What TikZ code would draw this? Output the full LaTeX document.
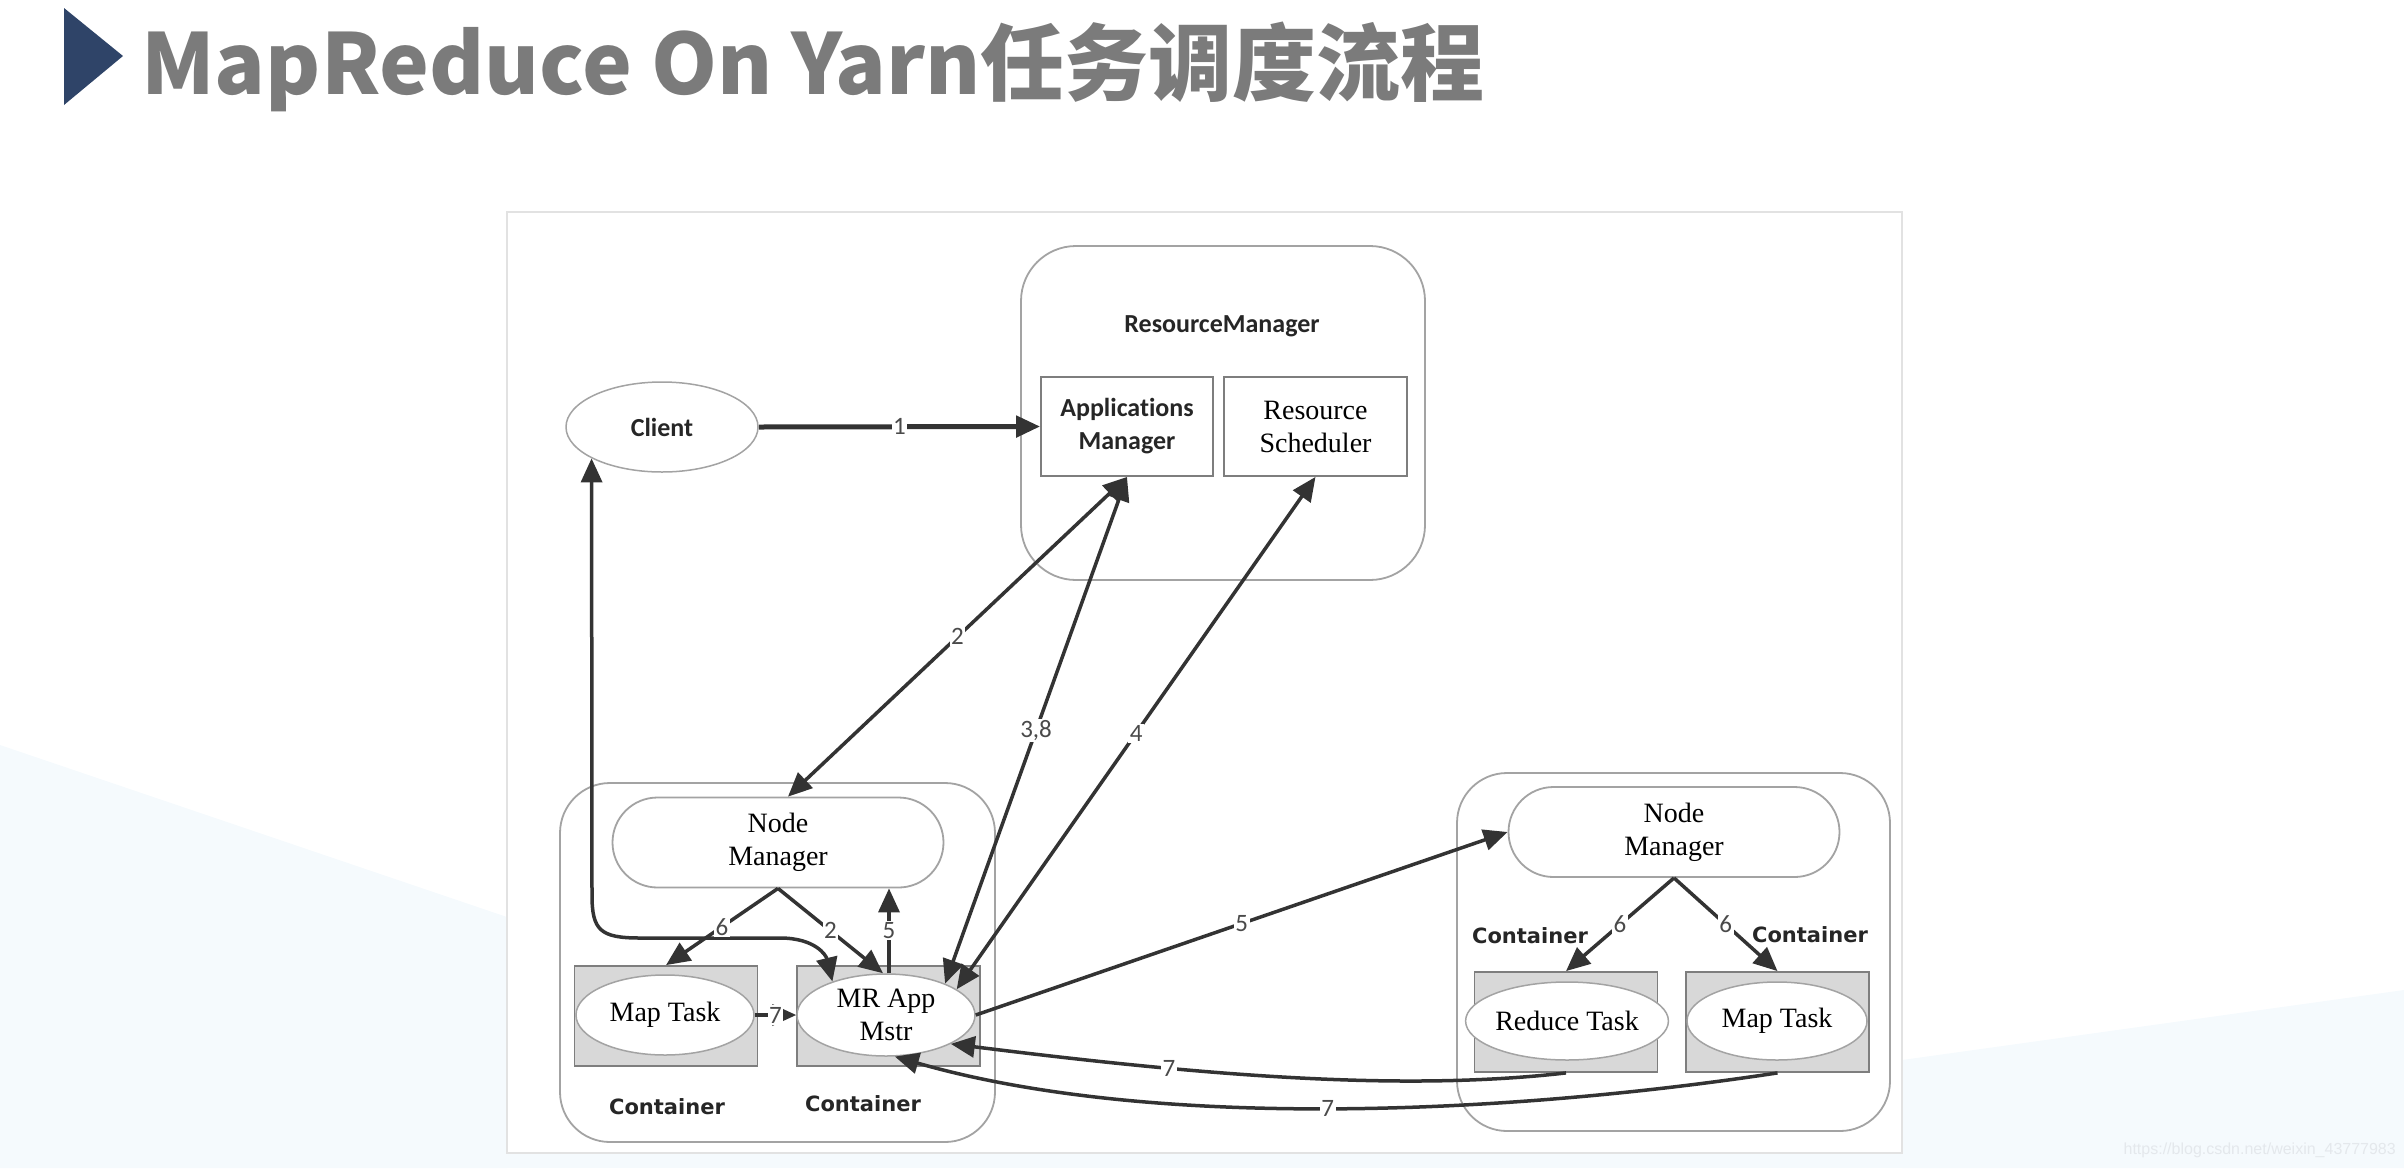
\documentclass[tikz,border=0pt]{standalone}
\usepackage{fontspec}
\setmainfont{Liberation Serif}
\newfontfamily\titlefont{Noto Sans CJK SC}
\newfontfamily\carl{Carlito}[Ligatures={NoCommon}]
\newfontfamily\dvs{DejaVu Sans}
\newfontfamily\wmfont{Liberation Sans}
\usetikzlibrary{arrows.meta,shapes.geometric,shapes.misc,calc}
\definecolor{linec}{HTML}{333333}
\definecolor{boxgray}{HTML}{A3A3A3}
\definecolor{rectgray}{HTML}{7E7E7E}
\definecolor{fillgray}{HTML}{D8D8D8}
\definecolor{framegray}{HTML}{E2E2E2}
\definecolor{titlegray}{HTML}{7B7B7B}
\definecolor{navy}{HTML}{2F4468}
\definecolor{labc}{HTML}{4A4A4A}
\definecolor{tint}{HTML}{F5FAFD}
\definecolor{wmc}{HTML}{E4E8EC}
\begin{document}
\begin{tikzpicture}[x=1pt,y=-1pt,
  >={Triangle[length=24pt,width=21pt]},
  bigbox/.style={draw=boxgray, line width=1.8pt, rounded corners=55pt, inner sep=0pt},
  innerbox/.style={draw=rectgray, line width=1.8pt, inner sep=0pt},
  ctr/.style={draw=rectgray, line width=1.8pt, fill=fillgray, inner sep=0pt, minimum width=183pt, minimum height=100pt},
  task/.style={ellipse, draw=boxgray, line width=1.5pt, fill=white, inner sep=0pt, minimum width=178pt, minimum height=80pt, font=\fontsize{28}{33}\selectfont, align=center},
  nm/.style={rounded rectangle, draw=boxgray, line width=1.8pt, fill=white, inner sep=0pt, minimum width=331pt, minimum height=90pt, font=\fontsize{28}{33}\selectfont, align=center},
  sanslab/.style={font=\carl\bfseries\fontsize{26}{33}\selectfont, text=black!85, align=center},
  contlab/.style={font=\dvs\bfseries\fontsize{21}{21}\selectfont, text=black!85},
  arr/.style={draw=linec, line width=3.5pt},
  lab/.style={fill=white, inner sep=1.5pt, font=\carl\fontsize{25}{25}\selectfont, text=labc}]
\useasboundingbox (0,0) rectangle (2404,1168);
% background tint
\fill[tint] (0,745) -- (507,917) -- (507,1168) -- (0,1168) -- cycle;
\fill[tint] (1902,1060) -- (2404,990) -- (2404,1168) -- (1902,1168) -- cycle;
\fill[tint] (0,1150) rectangle (2404,1168);
% title
\fill[navy] (64,8) -- (123,56) -- (64,105) -- cycle;
\node[anchor=base west, text=titlegray, font=\titlefont\bfseries\fontsize{84}{84}\selectfont, inner sep=0pt] (title) at (141,94) {MapReduce On Yarn任务调度流程};
% frame
\node[draw=framegray, fill=white, line width=2pt, minimum width=1395pt, minimum height=941pt, inner sep=0pt] (frame) at (1204.5,682.5) {};
% resource manager
\node[bigbox, minimum width=404pt, minimum height=334pt] (rm) at (1223,413) {};
\node[sanslab] (rmlab) at (1222,326) {ResourceManager};
\node[innerbox, minimum width=172pt, minimum height=99pt, sanslab] (am) at (1127,426.5) {Applications\\Manager};
\node[innerbox, minimum width=183pt, minimum height=99pt, font=\fontsize{28}{33}\selectfont, align=center] (rs) at (1315.5,426.5) {Resource\\Scheduler};
% client
\node[ellipse, draw=boxgray, line width=1.5pt, minimum width=192pt, minimum height=90pt, inner sep=0pt, sanslab] (client) at (662,427) {Client};
% left node
\node[bigbox, minimum width=435pt, minimum height=359pt, rounded corners=50pt] (leftnode) at (777.5,962.5) {};
\node[nm] (nml) at (778,842.5) {Node\\Manager};
\node[ctr] (mtlc) at (666,1016) {};
\node[task] (mtl) at (665,1015) {Map Task};
\node[ctr] (mrc) at (888.5,1016) {};
\node[task, minimum height=82pt] (mr) at (886,1015) {MR App\\Mstr};
\node[contlab] (cl1) at (667,1107) {Container};
\node[contlab] (cl2) at (863,1104) {Container};
% right node
\node[bigbox, minimum width=433pt, minimum height=358pt, rounded corners=50pt] (rightnode) at (1673.5,952) {};
\node[nm] (nmr) at (1674,832) {Node\\Manager};
\node[ctr] (rtc) at (1566,1022) {};
\node[task, minimum width=176pt, minimum height=78pt] (rt) at (1567,1021) {Reduce Task};
\node[ctr] (mtrc) at (1777.5,1022) {};
\node[task, minimum width=180pt, minimum height=78pt] (mtr) at (1777,1021) {Map Task};
\node[contlab] (cl3) at (1530,936) {Container};
\node[contlab] (cl4) at (1810,935) {Container};
% watermark
\node[font=\wmfont\fontsize{16}{16}\selectfont, text=wmc, anchor=east, inner sep=0pt] (wm) at (2396,1150) {https://blog.csdn.net/weixin\_43777983};
% connectors
\draw[arr, <->] (client.204) -- (592,895) .. controls (592,930) and (600,938) .. (640,938) -- (780,938) .. controls (815,938) and (826,955) .. (mr.148);
\draw[arr, line width=5pt, ->] (client.east) -- node[lab]{1} (am.west);
\draw[arr, <->] (am.south) -- node[lab]{2} ($(nml.north)+(10,0)$);
\draw[arr, <->] (am.south) -- node[lab]{3,8} (mr.28);
\draw[arr, <->] (rs.south) -- node[lab]{4} (mr.20);
\draw[arr, ->] (nml.south) -- node[lab]{6} (mtlc.north);
\draw[arr, ->] (nml.south) -- node[lab]{2} ($(mr.north)+(-3,0)$);
\draw[arr, ->] ($(mr.north)+(3,0)$) -- node[lab]{5} ($(mr.north |- nml.south)+(3,0)$);
\draw[arr, ->] (mtl.east) -- node[lab]{7} (mr.west);
\draw[arr, ->] (mr.east) -- node[lab]{5} (nmr.west);
\draw[arr, ->] (nmr.south) -- node[lab]{6} (rtc.north);
\draw[arr, ->] (nmr.south) -- node[lab]{6} (mtrc.north);
\draw[arr, ->] (rtc.south) .. controls (1400,1092) and (1200,1075) .. node[lab, pos=0.69]{7} (mr.-24);
\draw[arr, ->] (mtrc.south) .. controls (1500,1115) and (1150,1130) .. node[lab, pos=0.5]{7} (mr.-78);
\end{tikzpicture}
\end{document}
